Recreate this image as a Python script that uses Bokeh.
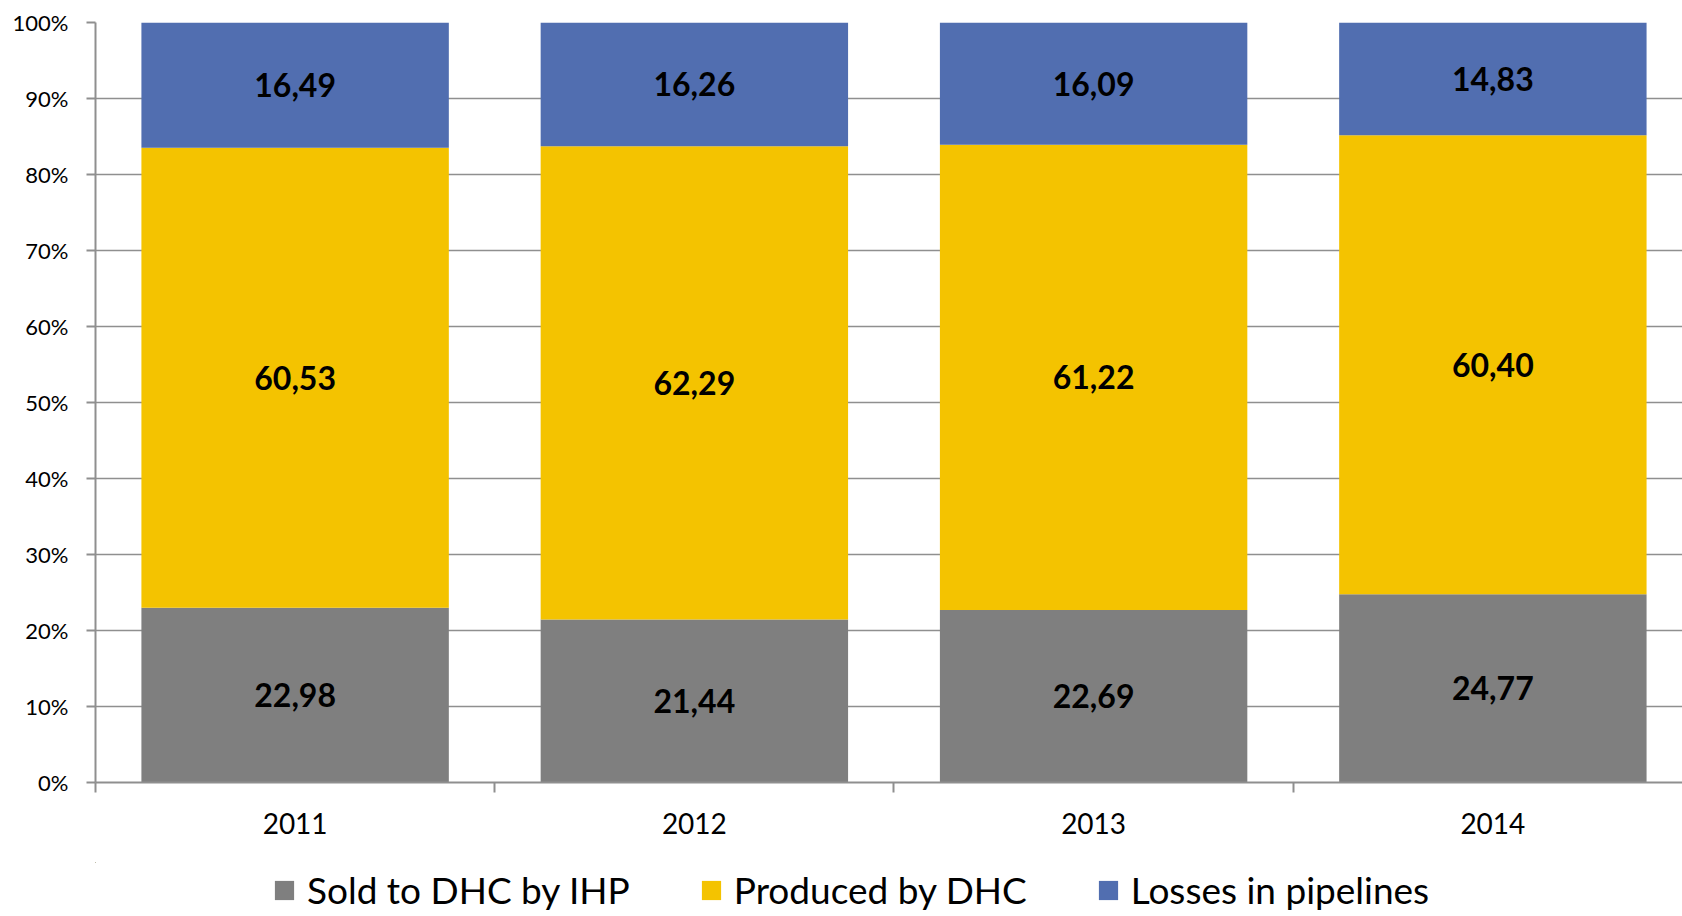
from bokeh.plotting import figure
from bokeh.layouts import column
from bokeh.models import (ColumnDataSource, Range1d, FixedTicker, PrintfTickFormatter,
                          Legend, LegendItem)
from bokeh.core.properties import value
from bokeh.embed import file_html
from bokeh.resources import INLINE

years = ["2011", "2012", "2013", "2014"]
sold = [22.98, 21.44, 22.69, 24.77]
produced = [60.53, 62.29, 61.22, 60.40]
losses = [16.49, 16.26, 16.09, 14.83]
series_names = ["Sold to DHC by IHP", "Produced by DHC", "Losses in pipelines"]
colors = ["#7f7f7f", "#f4c300", "#516eb0"]
y_ticks = list(range(0, 101, 10))

FONT = "Lato"
GRID = "#8f8f8f"

x = [i + 0.5 for i in range(len(years))]
src = ColumnDataSource(dict(x=x, sold=sold, produced=produced, losses=losses))

p = figure(frame_width=1587, frame_height=760,
           x_range=Range1d(0, 3.975), y_range=Range1d(0, 100),
           output_backend="svg", toolbar_location=None,
           min_border_left=95, min_border_right=0, min_border_top=22,
           min_border_bottom=80)
p.outline_line_color = None

renderers = p.vbar_stack(["sold", "produced", "losses"], x="x", width=0.77,
                         fill_color=colors, line_color=None, source=src)

# labels centered in each segment
lx, ly, lt = [], [], []
for i in range(len(years)):
    bottom = 0.0
    for vals in (sold, produced, losses):
        v = vals[i]
        lx.append(x[i])
        ly.append(bottom + v / 2)
        lt.append(f"{v:.2f}".replace(".", ","))
        bottom += v
lsrc = ColumnDataSource(dict(x=lx, y=ly, t=lt))
p.text(x="x", y="y", text="t", source=lsrc, text_font=value(FONT),
       text_font_style="bold", text_font_size="32px", text_color="#000000",
       text_align="center", text_baseline="middle")

# axes
xa = p.xaxis[0]
xa.ticker = FixedTicker(ticks=x, minor_ticks=[0, 1, 2, 3, 4])
xa.major_label_overrides = {xv: y for xv, y in zip(x, years)}
xa.major_tick_out = 0
xa.major_tick_in = 0
xa.minor_tick_out = 10
xa.minor_tick_in = 0
xa.minor_tick_line_color = GRID
xa.minor_tick_line_width = 2
xa.axis_line_color = GRID
xa.axis_line_width = 2
xa.major_label_standoff = 20
xa.major_label_text_font = FONT
xa.major_label_text_font_size = "28px"
xa.major_label_text_color = "#000000"

ya = p.yaxis[0]
ya.ticker = FixedTicker(ticks=y_ticks)
ya.formatter = PrintfTickFormatter(format="%d%%")
ya.major_tick_out = 9
ya.major_tick_in = 0
ya.minor_tick_out = 0
ya.minor_tick_in = 0
ya.major_tick_line_color = GRID
ya.major_tick_line_width = 2
ya.axis_line_color = GRID
ya.axis_line_width = 2
ya.major_label_standoff = 18
ya.major_label_text_font = FONT
ya.major_label_text_font_size = "22px"
ya.major_label_text_color = "#000000"

p.xgrid.visible = False
p.ygrid.ticker = FixedTicker(ticks=y_ticks)
p.ygrid.grid_line_color = GRID
p.ygrid.grid_line_width = 1.5

# legend strip below the chart (swatch renderers lie outside its visible range)
lg = figure(width=1682, height=52, x_range=Range1d(100, 101), y_range=Range1d(-100, -99),
            x_axis_type=None, y_axis_type=None, output_backend="svg",
            toolbar_location=None, min_border_left=0, min_border_right=0,
            min_border_top=0, min_border_bottom=0)
lg.outline_line_color = None
lg.xgrid.visible = False
lg.ygrid.visible = False
swatches = [lg.vbar(x="x", top=col, width=0.77, fill_color=c, line_color=None, source=src)
            for col, c in zip(["sold", "produced", "losses"], colors)]

legend = Legend(items=[LegendItem(label=n, renderers=[r]) for n, r in zip(series_names, swatches)],
                orientation="horizontal", location=(177, 2),
                padding=0, margin=0, border_line_alpha=0, background_fill_alpha=0,
                glyph_width=24, glyph_height=24, label_standoff=11, spacing=69,
                label_text_font=FONT, label_text_font_size="37px",
                label_text_color="#000000")
lg.add_layout(legend, "center")

layout = column(p, lg, spacing=0)
open("out.html", "w").write(file_html(layout, INLINE))
